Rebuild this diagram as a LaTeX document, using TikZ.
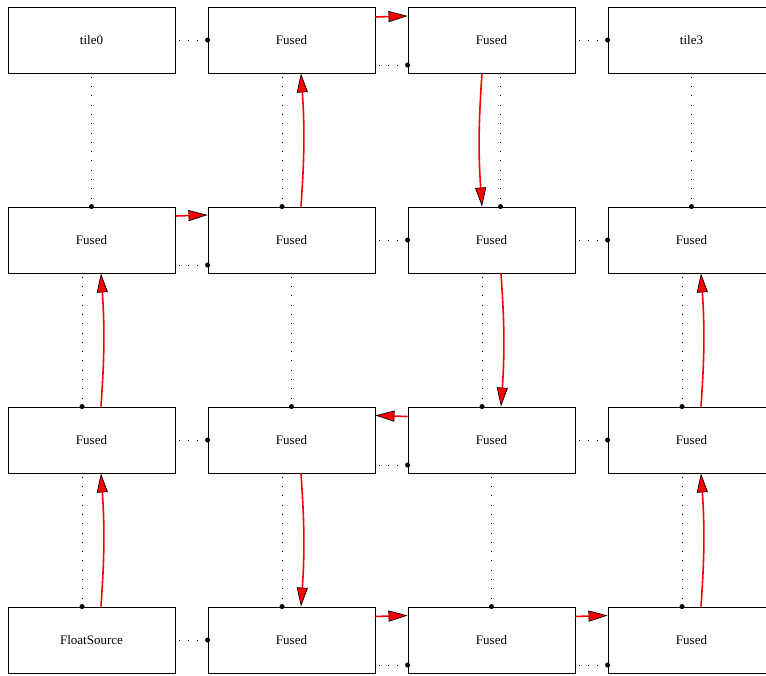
\documentclass[tikz,border=0pt]{standalone}
\usepackage{fontspec}
\setmainfont{Liberation Serif}
\usetikzlibrary{arrows.meta}
\begin{document}
\begin{tikzpicture}[x=1pt,y=1pt,
  tile/.style={draw=black,line width=0.9pt,minimum width=167pt,minimum height=66pt,
    inner sep=0pt,font=\fontsize{13}{15}\selectfont},
  dep/.style={line width=1pt,dash pattern=on 1pt off 8.3pt,dash phase=6pt,
    -{Circle[length=5pt,width=5pt,line width=0pt]},shorten >=-2.5pt},
  flow/.style={draw=red,line width=1.6pt,
    -{Triangle[length=19pt,width=11pt,color=black,fill=red,line width=0.7pt]}},
]
\clip (0,0) rectangle (766,-675);
\fill[white] (0,0) rectangle (766,-675);

% tile grid
\node[tile] (r0c0) at (91.5,-40) {tile0};
\node[tile] (r0c1) at (291.5,-40) {Fused};
\node[tile] (r0c2) at (491.5,-40) {Fused};
\node[tile] (r0c3) at (691.5,-40) {tile3};

\node[tile] (r1c0) at (91.5,-240) {Fused};
\node[tile] (r1c1) at (291.5,-240) {Fused};
\node[tile] (r1c2) at (491.5,-240) {Fused};
\node[tile] (r1c3) at (691.5,-240) {Fused};

\node[tile] (r2c0) at (91.5,-440) {Fused};
\node[tile] (r2c1) at (291.5,-440) {Fused};
\node[tile] (r2c2) at (491.5,-440) {Fused};
\node[tile] (r2c3) at (691.5,-440) {Fused};

\node[tile] (r3c0) at (91.5,-640) {FloatSource};
\node[tile] (r3c1) at (291.5,-640) {Fused};
\node[tile] (r3c2) at (491.5,-640) {Fused};
\node[tile] (r3c3) at (691.5,-640) {Fused};

% row 0
\draw[dep] (r0c0.east) -- (r0c1.west);
\draw[flow] ([yshift=23pt]r0c1.east) -- ([yshift=24pt]r0c2.west);
\draw[dep] ([yshift=-25pt]r0c1.east) -- ([yshift=-25pt]r0c2.west);
\draw[dep] (r0c2.east) -- (r0c3.west);

% row 1
\draw[flow] ([yshift=24pt]r1c0.east) -- ([yshift=25pt]r1c1.west);
\draw[dep] ([yshift=-25pt]r1c0.east) -- ([yshift=-25pt]r1c1.west);
\draw[dep] (r1c1.east) -- (r1c2.west);
\draw[dep] (r1c2.east) -- (r1c3.west);

% row 2
\draw[dep] (r2c0.east) -- (r2c1.west);
\draw[flow] ([yshift=23.5pt]r2c2.west) -- ([yshift=24.5pt]r2c1.east);
\draw[dep] ([yshift=-25pt]r2c1.east) -- ([yshift=-25pt]r2c2.west);
\draw[dep] (r2c2.east) -- (r2c3.west);

% row 3
\draw[dep] (r3c0.east) -- (r3c1.west);
\draw[flow] ([yshift=23.5pt]r3c1.east) -- ([yshift=24.5pt]r3c2.west);
\draw[dep] ([yshift=-25pt]r3c1.east) -- ([yshift=-25pt]r3c2.west);
\draw[flow] ([yshift=23.5pt]r3c2.east) -- ([yshift=24.5pt]r3c3.west);
\draw[dep] ([yshift=-25pt]r3c2.east) -- ([yshift=-25pt]r3c3.west);

% rows 0-1
\draw[dep] (r0c0.south) -- (r1c0.north);
\draw[dep] ([xshift=-9.5pt]r0c1.south) -- ([xshift=-9.5pt]r1c1.north);
\draw[flow] ([xshift=9.5pt]r1c1.north) to[bend right=4] ([xshift=9.5pt]r0c1.south);
\draw[flow] ([xshift=-9.5pt]r0c2.south) to[bend right=4] ([xshift=-9.5pt]r1c2.north);
\draw[dep] ([xshift=9pt]r0c2.south) -- ([xshift=9pt]r1c2.north);
\draw[dep] (r0c3.south) -- (r1c3.north);

% rows 1-2
\draw[dep] ([xshift=-9.5pt]r1c0.south) -- ([xshift=-9.5pt]r2c0.north);
\draw[flow] ([xshift=9.5pt]r2c0.north) to[bend right=4] ([xshift=9.5pt]r1c0.south);
\draw[dep] (r1c1.south) -- (r2c1.north);
\draw[dep] ([xshift=-9.5pt]r1c2.south) -- ([xshift=-9.5pt]r2c2.north);
\draw[flow] ([xshift=9.5pt]r1c2.south) to[bend left=4] ([xshift=9.5pt]r2c2.north);
\draw[dep] ([xshift=-9.5pt]r1c3.south) -- ([xshift=-9.5pt]r2c3.north);
\draw[flow] ([xshift=9.5pt]r2c3.north) to[bend right=4] ([xshift=9.5pt]r1c3.south);

% rows 2-3
\draw[dep] ([xshift=-9.5pt]r2c0.south) -- ([xshift=-9.5pt]r3c0.north);
\draw[flow] ([xshift=9.5pt]r3c0.north) to[bend right=4] ([xshift=9.5pt]r2c0.south);
\draw[dep] ([xshift=-9.5pt]r2c1.south) -- ([xshift=-9.5pt]r3c1.north);
\draw[flow] ([xshift=9.5pt]r2c1.south) to[bend left=4] ([xshift=9.5pt]r3c1.north);
\draw[dep] (r2c2.south) -- (r3c2.north);
\draw[dep] ([xshift=-9.5pt]r2c3.south) -- ([xshift=-9.5pt]r3c3.north);
\draw[flow] ([xshift=9.5pt]r3c3.north) to[bend right=4] ([xshift=9.5pt]r2c3.south);
\end{tikzpicture}
\end{document}
